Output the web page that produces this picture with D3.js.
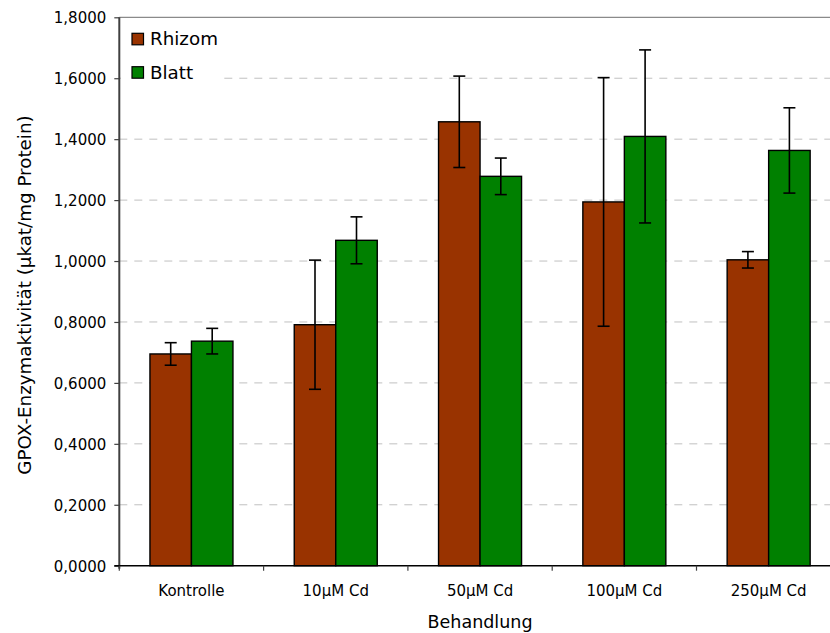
<!DOCTYPE html>
<html><head><meta charset="utf-8">
<script src="https://cdn.jsdelivr.net/npm/d3@7"></script>
<style>body{margin:0;background:#fff}svg{display:block}text{font-family:"DejaVu Sans",Verdana,sans-serif;fill:#000}</style>
</head><body><svg id="c" width="830" height="633"></svg>
<script>
const categories = ["Kontrolle","10µM Cd","50µM Cd","100µM Cd","250µM Cd"];
const seriesNames = ["Rhizom","Blatt"];
const seriesColors = ["#993300","#008000"];
const rhizomValues = [0.695, 0.791, 1.457, 1.194, 1.004];
const rhizomErrors = [0.037, 0.212, 0.150, 0.408, 0.027];
const blattValues = [0.737, 1.068, 1.278, 1.409, 1.363];
const blattErrors = [0.042, 0.077, 0.060, 0.284, 0.140];
const yTicks = [0,0.2,0.4,0.6,0.8,1.0,1.2,1.4,1.6,1.8];
const yLabel = "GPOX-Enzymaktivität (µkat/mg Protein)";
const xLabel = "Behandlung";

const svg = d3.select("#c");
const L = 119.3, R = 840.8, T = 17.3, B = 565.7;
const x = d3.scaleBand().domain(categories).range([L,R]).paddingInner(0).paddingOuter(0);
const barW = 41.5;
const y = d3.scaleLinear().domain([0,1.8]).range([B,T]);
const fmt = v => d3.format(".4f")(v).replace(".", ",");

// gridlines
svg.append("g").selectAll("line").data(yTicks.filter(t=>t>0 && t<1.8)).join("line")
  .attr("x1",L).attr("x2",R).attr("y1",d=>y(d)).attr("y2",d=>y(d))
  .attr("stroke","#c0c0c0").attr("stroke-width",1).attr("stroke-dasharray","8,7");
// top border
svg.append("line").attr("x1",L).attr("x2",R).attr("y1",T).attr("y2",T).attr("stroke","#8a8a8a").attr("stroke-width",1.2);

const data = [];
categories.forEach((c,i)=>{
  data.push({c, s:0, v:rhizomValues[i], e:rhizomErrors[i]});
  data.push({c, s:1, v:blattValues[i], e:blattErrors[i]});
});
const cx = d => x(d.c) + x.bandwidth()/2 + (d.s===0 ? -barW/2 : barW/2);

svg.append("g").selectAll("rect").data(data).join("rect")
  .attr("x",d=>cx(d)-barW/2).attr("width",barW)
  .attr("y",d=>y(d.v)).attr("height",d=>B-y(d.v))
  .attr("fill",d=>seriesColors[d.s]).attr("stroke","#000").attr("stroke-width",1.4);

const eb = svg.append("g").attr("stroke","#000").attr("stroke-width",1.6);
data.forEach(d=>{
  const X = cx(d);
  eb.append("line").attr("x1",X).attr("x2",X).attr("y1",y(d.v+d.e)).attr("y2",y(d.v-d.e));
  eb.append("line").attr("x1",X-6).attr("x2",X+6).attr("y1",y(d.v+d.e)).attr("y2",y(d.v+d.e));
  eb.append("line").attr("x1",X-6).attr("x2",X+6).attr("y1",y(d.v-d.e)).attr("y2",y(d.v-d.e));
});

// y axis
const yAxis = d3.axisLeft(y).tickValues(yTicks).tickFormat(fmt).tickSize(5).tickPadding(8);
const ga = svg.append("g").attr("transform",`translate(${L},0)`).call(yAxis);
ga.select(".domain").attr("stroke","#404040").attr("stroke-width",2).attr("d",`M0,${T}V${B+3}`);
ga.selectAll(".tick line").attr("stroke","#404040").attr("stroke-width",1.2);
ga.selectAll(".tick text").attr("font-size",15).attr("font-family","DejaVu Sans").attr("fill","#000").attr("dy","0.36em").attr("x",-13);

// x axis
const xTickPos = d3.range(categories.length+1).map(i=>L+i*x.step());
svg.append("line").attr("x1",L-5).attr("x2",R).attr("y1",B).attr("y2",B).attr("stroke","#000").attr("stroke-width",1.6);
svg.append("g").selectAll("line").data(xTickPos).join("line")
  .attr("x1",d=>d).attr("x2",d=>d).attr("y1",B).attr("y2",B+5).attr("stroke","#404040").attr("stroke-width",1.2);
svg.append("g").selectAll("text").data(categories).join("text")
  .attr("x",d=>x(d)+x.bandwidth()/2).attr("y",596).attr("text-anchor","middle")
  .attr("font-size",15).text(d=>d);

svg.append("text").attr("x",(L+R)/2).attr("y",628).attr("text-anchor","middle").attr("font-size",17.5).text(xLabel);
svg.append("text").attr("transform","translate(31,295) rotate(-90)").attr("text-anchor","middle").attr("font-size",18.3).text(yLabel);

// legend
const lg = svg.append("g");
lg.append("rect").attr("x",121).attr("y",19).attr("width",100).attr("height",74).attr("fill","#fff");
seriesNames.forEach((n,i)=>{
  const yy = 33.3 + i*33.4;
  lg.append("rect").attr("x",132).attr("y",yy).attr("width",11.5).attr("height",11.5)
    .attr("fill",seriesColors[i]).attr("stroke","#000").attr("stroke-width",1.2);
  lg.append("text").attr("x",150).attr("y",yy+12).attr("font-size",18.3).text(n);
});
</script></body></html>
